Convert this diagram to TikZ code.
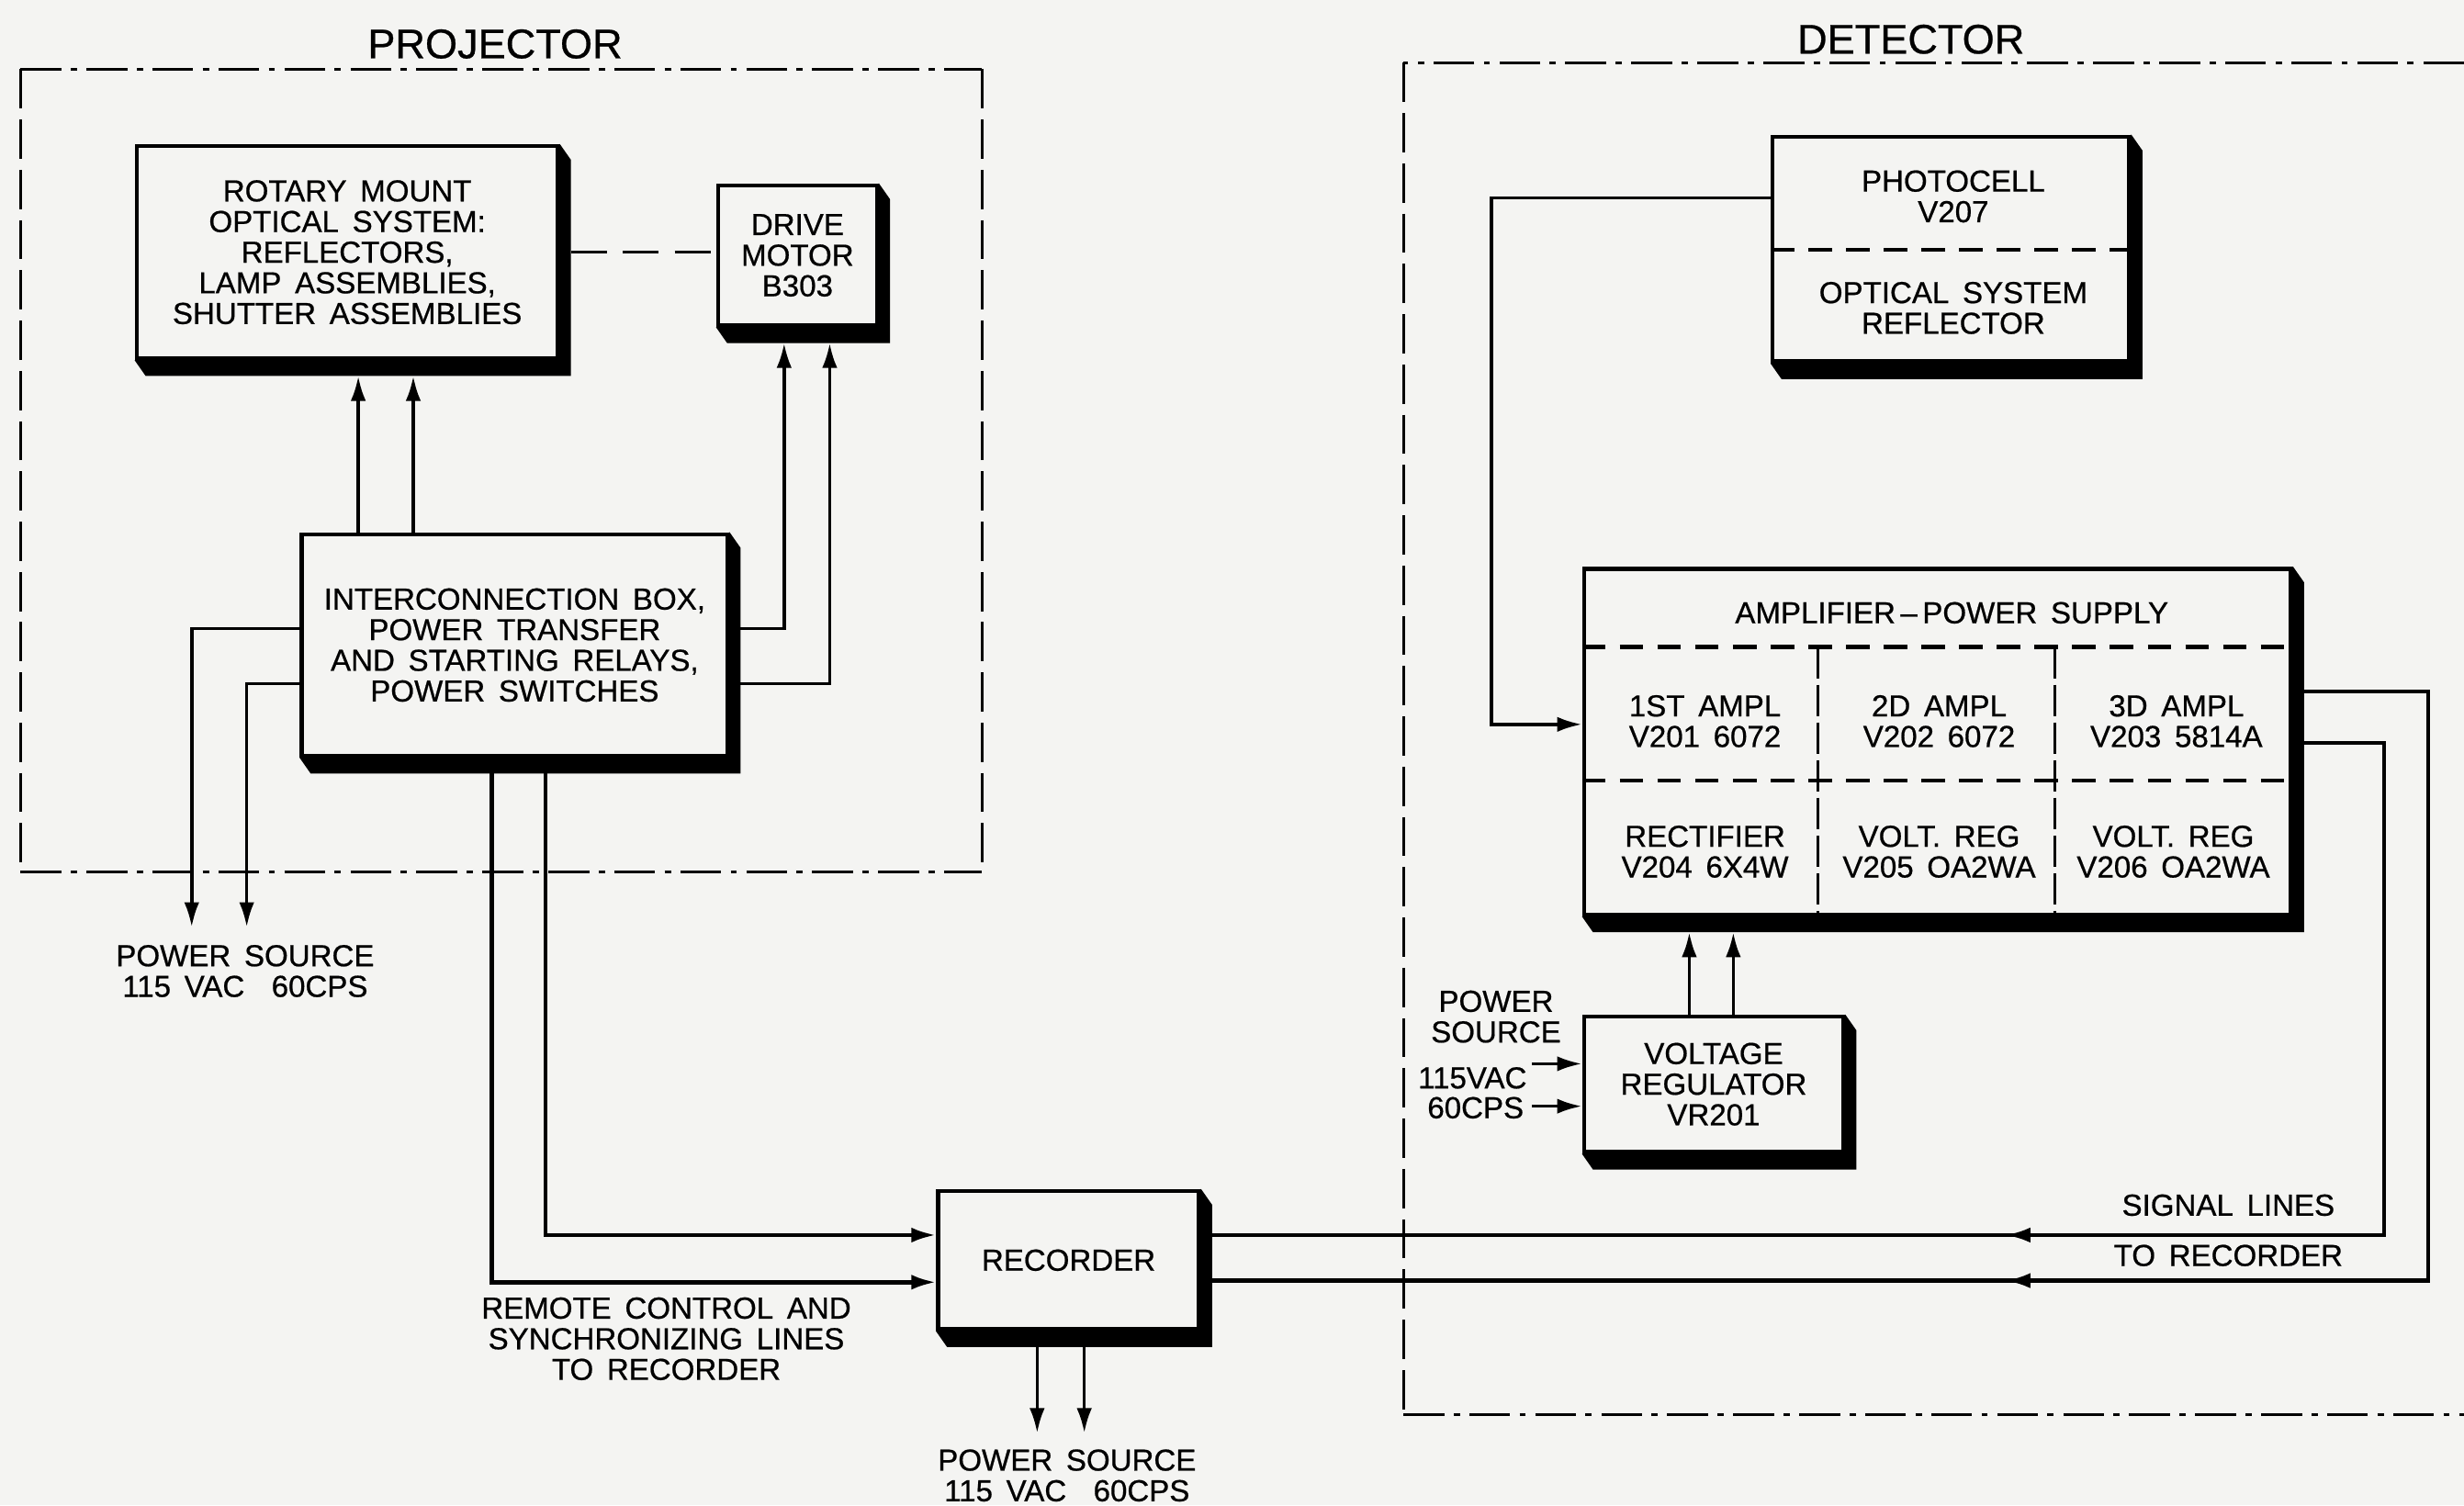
\documentclass[tikz,border=0pt]{standalone}
\usepackage{fontspec}
\setmainfont{Liberation Sans}[WordSpace=1.6, FakeBold=0.6]
\usetikzlibrary{arrows.meta,backgrounds,decorations.markings,calc}
\definecolor{paper}{HTML}{F4F4F2}
\newcommand\boxfont{\fontsize{11}{11.1}\selectfont}
\newcommand\titlefont{\fontsize{15}{16}\selectfont}
\pgfdeclarelayer{paperlayer}
\pgfsetlayers{paperlayer,background,main}
\newcommand\boxshadow[1]{%
  \begin{pgfonlayer}{background}
  \fill[black] (#1.north east) -- ([shift={(7,10)}]#1.north east) -- ([shift={(7,10)}]#1.south east) -- ([shift={(7,10)}]#1.south west) -- (#1.south west) -- cycle;
  \end{pgfonlayer}}
\begin{document}
\begin{tikzpicture}[x=0.02cm, y=-0.02cm,
  box/.style={draw, line width=1.5pt, fill=paper, align=center, inner sep=0pt, font=\boxfont},
  lbl/.style={align=center, inner sep=0pt, font=\boxfont},
  ttl/.style={inner sep=0pt, font=\titlefont},
  arr/.style={line width=1.2pt, -{Latex[length=9pt,width=5.5pt]}},
  wire/.style={line width=1.2pt},
  hframe/.style={line width=1pt, dash pattern=on 0.52cm off 0.12cm on 0.08cm off 0.12cm},
  vframe/.style={line width=1pt, dash pattern=on 0.5cm off 0.14cm},
  divider/.style={line width=1.4pt, dash pattern=on 0.3cm off 0.18cm},
  vdivider/.style={line width=1pt, dash pattern=on 0.4cm off 0.08cm},
  sig/.style={line width=1.4pt, postaction={decorate},
    decoration={markings, mark=at position -10.1cm with {\arrow{Latex[length=9pt,width=5.5pt]}}}}
]
\useasboundingbox (0,0) rectangle (1568,958);
\begin{pgfonlayer}{paperlayer}
\fill[paper] (0,0) rectangle (1568,958);
\end{pgfonlayer}

% ---------------- PROJECTOR ----------------
\node[ttl] (projt) at (315,28) {PROJECTOR};
\draw[hframe] (13,44) -- (625,44);
\draw[hframe] (13,555) -- (625,555);
\draw[vframe] (13,44) -- (13,555);
\draw[vframe] (625,44) -- (625,555);

\node[box, minimum width=5.36cm, minimum height=2.7cm] (rot) at (221,160.5)
  {ROTARY MOUNT\\OPTICAL SYSTEM:\\REFLECTORS,\\LAMP ASSEMBLIES,\\SHUTTER ASSEMBLIES};
\node[box, minimum width=2.02cm, minimum height=1.78cm] (drv) at (507.5,162.5)
  {DRIVE\\MOTOR\\B303};
\node[box, minimum width=5.42cm, minimum height=2.82cm] (ic) at (327.5,410.5)
  {INTERCONNECTION BOX,\\POWER TRANSFER\\AND STARTING RELAYS,\\POWER SWITCHES};
\node[box, minimum width=3.32cm, minimum height=1.76cm] (rec) at (680,802) {RECORDER};
\boxshadow{rot}\boxshadow{drv}\boxshadow{ic}\boxshadow{rec}

\draw[wire, dash pattern=on 0.46cm off 0.2cm] ([xshift=0.14cm]rot.east) -- (rot.east -| drv.west);

\coordinate (xa) at (228,0);
\coordinate (xb) at (263,0);
\draw[arr] (ic.north -| xa) -- ([yshift=-0.2cm]rot.south -| xa);
\draw[arr] (ic.north -| xb) -- ([yshift=-0.2cm]rot.south -| xb);

\coordinate (h1) at (499,400);
\coordinate (h2) at (528,435);
\draw[arr] (ic.east |- h1) -- (h1) -- ([yshift=-0.2cm]drv.south -| h1);
\draw[arr] (ic.east |- h2) -- (h2) -- ([yshift=-0.2cm]drv.south -| h2);

\coordinate (ps1) at (122,590);
\coordinate (ps2) at (157,590);
\draw[arr] (ic.west |- h1) -| (ps1);
\draw[arr] (ic.west |- h2) -| (ps2);
\node[lbl] (pslab) at (156,618) {POWER SOURCE\\115 VAC\ \ 60CPS};

\coordinate (r1) at (313,816);
\coordinate (r2) at (347,786);
\draw[arr, line width=1.5pt] (ic.south -| r1) |- (rec.west |- r1);
\draw[arr, line width=1.5pt] (ic.south -| r2) |- (rec.west |- r2);
\node[lbl] (rclab) at (424,852) {REMOTE CONTROL AND\\SYNCHRONIZING LINES\\TO RECORDER};

\coordinate (pd1) at (660,912);
\coordinate (pd2) at (690,912);
\draw[arr] (rec.south -| pd1) -- (pd1);
\draw[arr] (rec.south -| pd2) -- (pd2);
\node[lbl] (pslab2) at (679,939) {POWER SOURCE\\115 VAC\ \ 60CPS};

% ---------------- DETECTOR ----------------
\node[ttl] (dett) at (1216,25) {DETECTOR};
\draw[hframe] (1568,40) -- (893,40);
\draw[hframe] (893,900) -- (1568,900);
\draw[vframe] (893,40) -- (893,900);

\node[box, minimum width=4.54cm, minimum height=2.86cm] (pc) at (1241.5,158.5) {};
\draw[divider] (pc.west |- 0,159) -- (pc.east |- 0,159);
\node[lbl] (pct) at (1243,125) {PHOTOCELL\\V207};
\node[lbl] (pcb) at (1243,196) {OPTICAL SYSTEM\\REFLECTOR};

\node[box, minimum width=9cm, minimum height=4.4cm] (amp) at (1233,472) {};
\draw[divider] ($(amp.north west)+(0,51)$) -- ($(amp.north east)+(0,51)$);
\draw[divider] ($(amp.north west)+(0,136)$) -- ($(amp.north east)+(0,136)$);
\draw[vdivider] ($(amp.north west)+(150,51)$) -- ($(amp.south west)+(150,0)$);
\draw[vdivider] ($(amp.north west)+(301,51)$) -- ($(amp.south west)+(301,0)$);
\node[lbl] (ampt) at (1242,390) {AMPLIFIER\,--\,POWER SUPPLY};
\node[lbl] (c11) at (1085,459) {1ST AMPL\\V201 6072};
\node[lbl] (c12) at (1234,459) {2D AMPL\\V202 6072};
\node[lbl] (c13) at (1385,459) {3D AMPL\\V203 5814A};
\node[lbl] (c21) at (1085,542) {RECTIFIER\\V204 6X4W};
\node[lbl] (c22) at (1234,542) {VOLT. REG\\V205 OA2WA};
\node[lbl] (c23) at (1383,542) {VOLT. REG\\V206 OA2WA};

\node[box, minimum width=3.3cm, minimum height=1.72cm] (vr) at (1090.5,690)
  {VOLTAGE\\REGULATOR\\VR201};
\boxshadow{pc}\boxshadow{amp}\boxshadow{vr}

\coordinate (d0) at (949,126);
\coordinate (d1) at (949,461);
\draw[arr] (pc.west |- d0) -- (d0) -- (d1) -- (amp.west |- d1);

\coordinate (v1) at (1075,0);
\coordinate (v2) at (1103,0);
\draw[arr] (vr.north -| v1) -- ([yshift=-0.2cm]amp.south -| v1);
\draw[arr] (vr.north -| v2) -- ([yshift=-0.2cm]amp.south -| v2);

\coordinate (pv1) at (975,677);
\coordinate (pv2) at (975,704);
\draw[arr] (pv1) -- (vr.west |- pv1);
\draw[arr] (pv2) -- (vr.west |- pv2);
\node[lbl] (vps) at (952,647) {POWER\\SOURCE};
\node[lbl] (v115) at (937,686) {115VAC};
\node[lbl] (v60) at (939,705) {60CPS};

\coordinate (s1) at (1545,440);
\coordinate (s1b) at (1545,815);
\coordinate (s2) at (1517,473);
\coordinate (s2b) at (1517,786);
\draw[sig] ([xshift=0.14cm]amp.east |- s1) -- (s1) -- (s1b) -- ([xshift=0.14cm]rec.east |- s1b);
\draw[sig] ([xshift=0.14cm]amp.east |- s2) -- (s2) -- (s2b) -- ([xshift=0.14cm]rec.east |- s2b);
\node[lbl] (sl1) at (1418,767) {SIGNAL LINES};
\node[lbl] (sl2) at (1418,799) {TO RECORDER};
\end{tikzpicture}
\end{document}
